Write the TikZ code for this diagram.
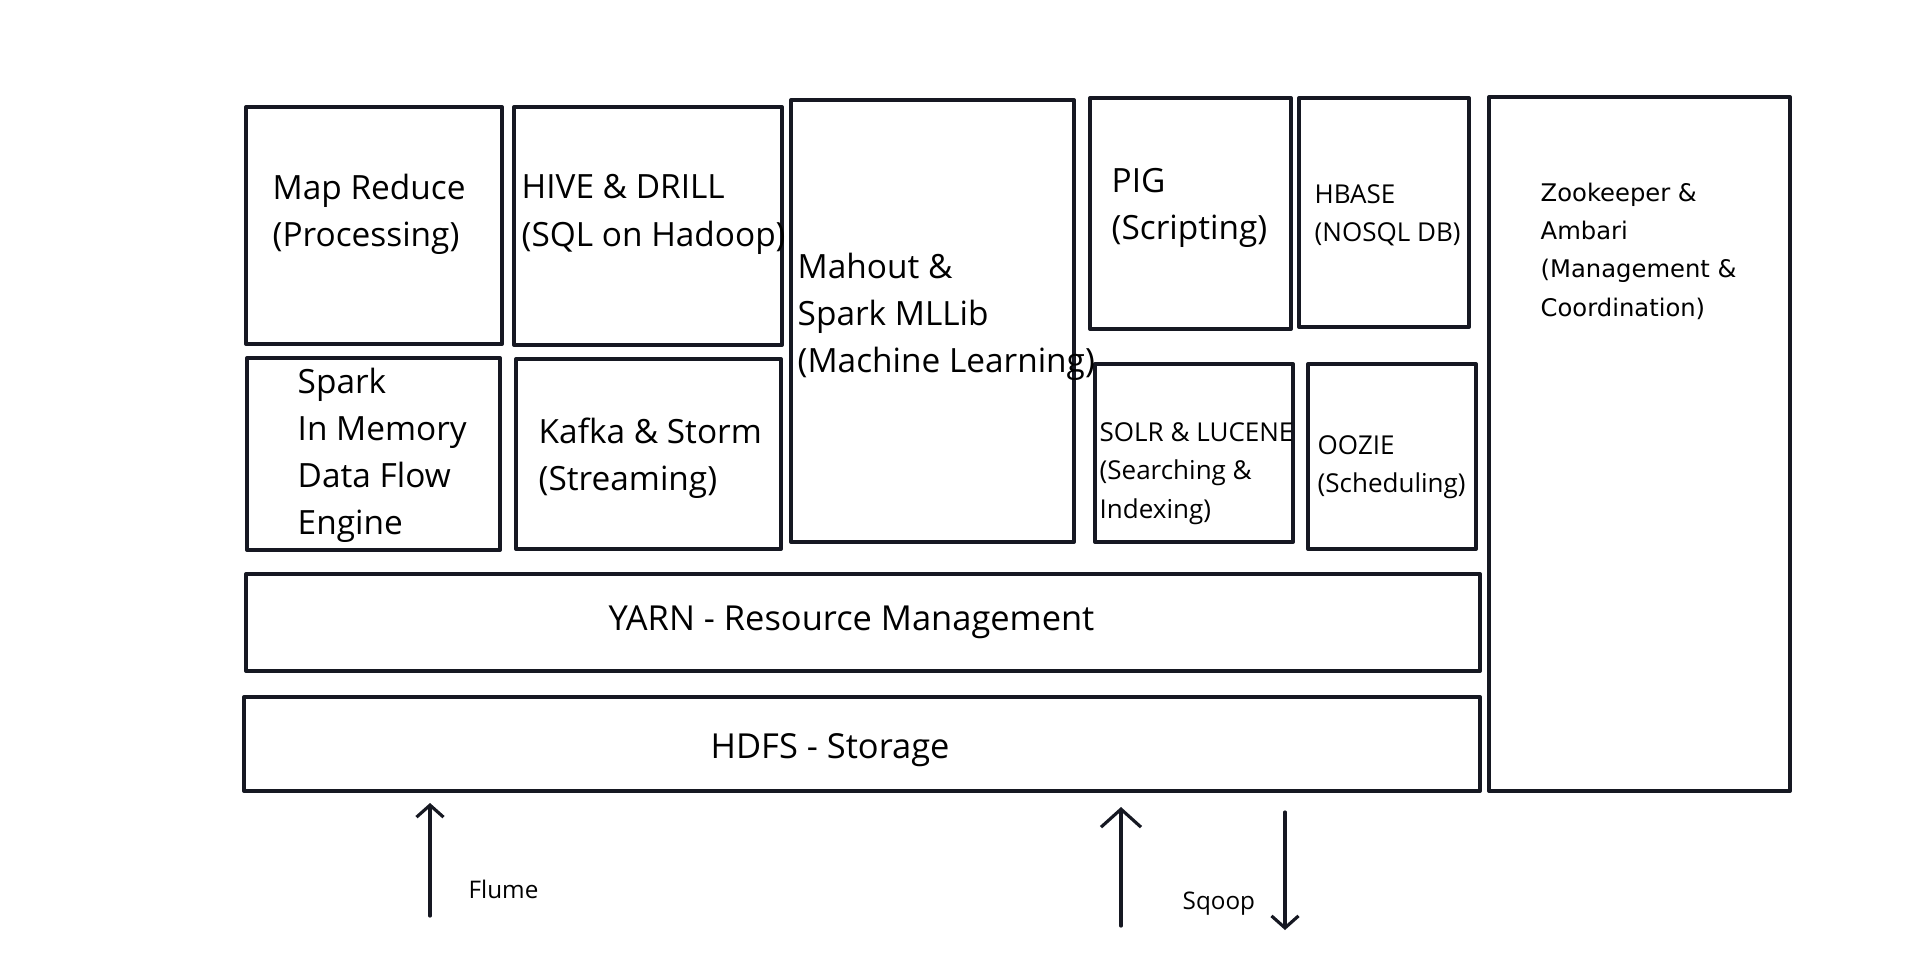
\documentclass[tikz,border=0pt]{standalone}
\usepackage{fontspec}
\setmainfont{Open Sans}
\newfontfamily\zkfont{DejaVu Sans}
\usetikzlibrary{arrows.meta,fit}
\definecolor{ink}{RGB}{22,24,34}

\begin{document}
\begin{tikzpicture}[x=0.1mm, y=-0.1mm, line join=round, line cap=round,
    >={Straight Barb[length=1.2mm,width=2.7mm]},
    box/.style={draw=ink, line width=1.15pt, inner sep=0pt, fit={#1}},
    lbl/.style={anchor=north west, inner sep=0pt, align=left,
        font=\fontsize{9.5}{13.4}\selectfont, execute at begin node=\strut},
    lblsm/.style={lbl, font=\fontsize{7.4}{10.9}\selectfont},
    lblzk/.style={lbl, font=\zkfont\fontsize{6.9}{10.9}\selectfont},
    lblbig/.style={lbl, font=\fontsize{9.8}{13.4}\selectfont},
    lblio/.style={anchor=base west, inner sep=0pt, font=\fontsize{6.9}{10}\selectfont},
    flow/.style={draw=ink, line width=0.9pt, ->}]
  \useasboundingbox (0,0) rectangle (1920,956);
  % khung: ten/trai/tren/phai/duoi
  \foreach \ten/\xa/\ya/\xb/\yb in {mr/246/107/502/344, hive/514/107/782/345,
      spark/247/358/500/550, kafka/516/359/781/549, mahout/791/100/1074/542,
      pig/1090/98/1291/329, hbase/1299/98/1469/327, solr/1095/364/1293/542,
      oozie/1308/364/1476/549, zk/1489/97/1790/791,
      yarn/246/574/1480/671, hdfs/244/697/1480/791}
    \node[box={(\xa,\ya) (\xb,\yb)}] (\ten) {};
  % nhan
  \node[lbl] (tmr) at (272,173) {Map Reduce\\(Processing)};
  \node[lbl] (thive) at (521,174) {HIVE \& DRILL\\(SQL on Hadoop)};
  \node[lbl] (tspark) at (297,367) {Spark\\In Memory\\Data Flow\\Engine};
  \node[lbl] (tkafka) at (538,417) {Kafka \& Storm\\(Streaming)};
  \node[lbl] (tmahout) at (797,252) {Mahout \&\\Spark MLLib\\(Machine Learning)};
  \node[lbl] (tpig) at (1111,168) {PIG\\(Scripting)};
  \node[lblsm] (thbase) at (1314,184) {HBASE\\(NOSQL DB)};
  \node[lblsm] (tsolr) at (1099,422) {SOLR \& LUCENE\\(Searching \&\\Indexing)};
  \node[lblsm] (toozie) at (1317,435) {OOZIE\\(Scheduling)};
  \node[lblzk] (tzk) at (1540,182) {Zookeeper \&\\Ambari\\(Management \&\\Coordination)};
  \node[lblbig] (tyarn) at (608,597) {YARN - Resource Management};
  \node[lblbig] (thdfs) at (710,725) {HDFS - Storage};
  % mui ten
  \coordinate (fl1) at (430,916); \coordinate (fl2) at (430,803);
  \coordinate (in1) at (1121,926); \coordinate (in2) at (1121,807);
  \coordinate (out1) at (1285,812); \coordinate (out2) at (1285,930);
  \draw[flow] (fl1) -- (fl2);
  \draw[flow, -{Straight Barb[length=1.8mm,width=4mm]}] (in1) -- (in2);
  \draw[flow] (out1) -- (out2);
  \node[lblio] (tflume) at (468,898) {Flume};
  \node[lblio] (tsqoop) at (1182,909) {Sqoop};
\end{tikzpicture}
\end{document}
